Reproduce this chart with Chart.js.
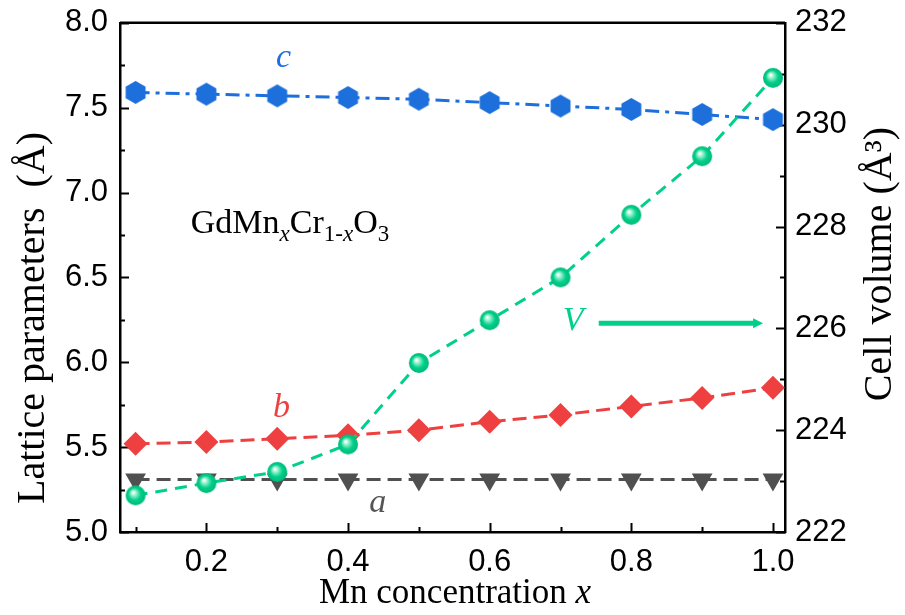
<!DOCTYPE html>
<html>
<head>
<meta charset="utf-8">
<script src="https://cdn.jsdelivr.net/npm/chart.js@4.4.1/dist/chart.umd.min.js"></script>
<style>
  html, body { margin: 0; padding: 0; background: #fff; }
  #wrap { width: 905px; height: 615px; position: relative; }
</style>
</head>
<body>
<div id="wrap"><canvas id="latticeChart" width="905" height="615"></canvas></div>
<script>
/* =========================
   DATOS
========================= */
const mnConc = [0.1, 0.2, 0.3, 0.4, 0.5, 0.6, 0.7, 0.8, 0.9, 1.0];
const latticeA = [5.31, 5.31, 5.31, 5.31, 5.31, 5.31, 5.31, 5.31, 5.31, 5.31];
const latticeB = [5.52, 5.53, 5.55, 5.57, 5.60, 5.65, 5.69, 5.74, 5.79, 5.85];
const latticeC = [7.59, 7.58, 7.57, 7.56, 7.55, 7.53, 7.51, 7.49, 7.46, 7.43];
const cellVolume = [222.72, 222.96, 223.18, 223.72, 225.32, 226.16, 227.0, 228.23, 229.38, 230.92];
const xTickLabels = [0.2, 0.4, 0.6, 0.8, 1.0];

const COLORS = {
  a: '#505050',
  b: '#ee4040',
  c: '#1d6fdc',
  v: '#00d08c'
};

const X_TICK_FONT = { family: 'Liberation Sans, Arial, sans-serif', size: 31 };
// lineHeight reducido: así el área del gráfico empieza en y≈22 como en la figura
const Y_TICK_FONT = { family: 'Liberation Sans, Arial, sans-serif', size: 31, lineHeight: 0.7 };
const SERIF = 'Liberation Serif, Times New Roman, serif';

function pairs(ys) {
  return mnConc.map((x, i) => ({ x: x, y: ys[i] }));
}

/* =========================
   MARCADORES
========================= */
function hexagonMarker(r, color) {
  const c = document.createElement('canvas');
  const w = Math.ceil(r * 2 + 2);
  c.width = w; c.height = w;
  const g = c.getContext('2d');
  g.fillStyle = color;
  g.beginPath();
  for (let k = 0; k < 6; k++) {
    const ang = -Math.PI / 2 + k * Math.PI / 3;
    const px = w / 2 + r * Math.cos(ang);
    const py = w / 2 + r * Math.sin(ang);
    k === 0 ? g.moveTo(px, py) : g.lineTo(px, py);
  }
  g.closePath();
  g.fill();
  return c;
}

function sphereMarker(r) {
  const c = document.createElement('canvas');
  const w = Math.ceil(r * 2 + 2);
  c.width = w; c.height = w;
  const g = c.getContext('2d');
  const cx = w / 2, cy = w / 2;
  const grad = g.createRadialGradient(cx - r * 0.25, cy - r * 0.3, r * 0.05, cx, cy, r);
  grad.addColorStop(0, '#ffffff');
  grad.addColorStop(0.25, '#8ff0c8');
  grad.addColorStop(0.6, '#00d08c');
  grad.addColorStop(1, '#00b878');
  g.fillStyle = grad;
  g.beginPath();
  g.arc(cx, cy, r, 0, Math.PI * 2);
  g.fill();
  return c;
}

/* =========================
   PLUGIN: ticks internos, marco, títulos, etiquetas
========================= */
function inwardTicks(ctx, scale, values, len, horizontal, side) {
  values.forEach(v => {
    const p = Math.round(scale.getPixelForValue(v)) + 0.5;
    ctx.beginPath();
    if (horizontal) {
      ctx.moveTo(p, scale.top);
      ctx.lineTo(p, scale.top - len);
    } else if (side === 'left') {
      ctx.moveTo(scale.right, p);
      ctx.lineTo(scale.right + len, p);
    } else {
      ctx.moveTo(scale.left, p);
      ctx.lineTo(scale.left - len, p);
    }
    ctx.stroke();
  });
}

function range(from, to, step) {
  const out = [];
  for (let v = from; v <= to + 1e-9; v += step) out.push(+v.toFixed(4));
  return out;
}

const decorPlugin = {
  id: 'decor',
  beforeDatasetsDraw(chart) {
    const { ctx, chartArea, scales } = chart;
    ctx.save();
    ctx.strokeStyle = '#000';
    ctx.lineWidth = 2.5;
    // marco superior
    ctx.beginPath();
    ctx.moveTo(chartArea.left, chartArea.top);
    ctx.lineTo(chartArea.right, chartArea.top);
    ctx.stroke();

    ctx.lineWidth = 2;
    inwardTicks(ctx, scales.x, range(0.2, 1.0, 0.2), 9, true);
    inwardTicks(ctx, scales.x, range(0.1, 0.9, 0.2), 5, true);
    inwardTicks(ctx, scales.y, range(5, 8, 0.5), 9, false, 'left');
    inwardTicks(ctx, scales.y, range(5.25, 7.75, 0.5), 5, false, 'left');
    inwardTicks(ctx, scales.y1, range(222, 232, 2), 9, false, 'right');
    inwardTicks(ctx, scales.y1, range(223, 231, 2), 5, false, 'right');
    ctx.restore();
  },
  afterDraw(chart) {
    const { ctx, scales } = chart;
    const x = scales.x, y = scales.y, y1 = scales.y1;
    ctx.save();

    // títulos de ejes
    ctx.fillStyle = '#000';
    ctx.textBaseline = 'middle';
    ctx.font = '35px ' + SERIF;
    const wMn = ctx.measureText('Mn concentration ').width;
    ctx.font = 'italic 35px ' + SERIF;
    const wX = ctx.measureText('x').width;
    let tx = 455 - (wMn + wX) / 2;
    ctx.textAlign = 'left';
    ctx.font = '35px ' + SERIF;
    ctx.fillText('Mn concentration ', tx, 594);
    ctx.font = 'italic 35px ' + SERIF;
    ctx.fillText('x', tx + wMn, 594);

    ctx.textAlign = 'center';
    ctx.font = '40px ' + SERIF;
    ctx.save();
    ctx.translate(33, 318);
    ctx.rotate(-Math.PI / 2);
    ctx.fillText('Lattice parameters  (Å)', 0, 0);
    ctx.restore();

    ctx.font = '40px ' + SERIF;
    ctx.save();
    ctx.translate(880, 127);
    ctx.rotate(-Math.PI / 2);
    ctx.textAlign = 'right';
    ctx.fillText('Cell volume (Å³)', 0, 0);
    ctx.restore();

    // etiquetas de series
    ctx.textAlign = 'center';
    ctx.font = 'italic 34px ' + SERIF;
    ctx.fillStyle = COLORS.c;
    ctx.fillText('c', x.getPixelForValue(0.309), y.getPixelForValue(7.79));
    ctx.fillStyle = COLORS.b;
    ctx.fillText('b', x.getPixelForValue(0.306), y.getPixelForValue(5.73));
    ctx.fillStyle = '#555';
    ctx.fillText('a', x.getPixelForValue(0.442), y.getPixelForValue(5.17));
    ctx.fillStyle = COLORS.v;
    ctx.fillText('V', x.getPixelForValue(0.718), y1.getPixelForValue(226.15));

    // flecha hacia el eje derecho
    const ay = y1.getPixelForValue(226.1);
    const ax0 = x.getPixelForValue(0.754);
    const ax1 = x.getPixelForValue(0.986);
    ctx.strokeStyle = COLORS.v;
    ctx.lineWidth = 5;
    ctx.beginPath();
    ctx.moveTo(ax0, ay);
    ctx.lineTo(ax1 - 8, ay);
    ctx.stroke();
    ctx.fillStyle = COLORS.v;
    ctx.beginPath();
    ctx.moveTo(ax1, ay);
    ctx.lineTo(ax1 - 10, ay - 5);
    ctx.lineTo(ax1 - 10, ay + 5);
    ctx.closePath();
    ctx.fill();

    // fórmula
    ctx.fillStyle = '#000';
    ctx.textAlign = 'left';
    ctx.textBaseline = 'alphabetic';
    let px = x.getPixelForValue(0.178);
    const base = y.getPixelForValue(6.76);
    const parts = [
      ['GdMn', '34px', 0],
      ['x', 'italic 23px', 8],
      ['Cr', '34px', 0],
      ['1-', '23px', 8],
      ['x', 'italic 23px', 8],
      ['O', '34px', 0],
      ['3', '23px', 8]
    ];
    parts.forEach(([txt, f, dy]) => {
      ctx.font = f + ' ' + SERIF;
      ctx.fillText(txt, px, base + dy);
      px += ctx.measureText(txt).width;
    });

    ctx.restore();
  }
};

/* =========================
   GRÁFICA
========================= */
const ctx = document.getElementById('latticeChart').getContext('2d');
const latticeChart = new Chart(ctx, {
  type: 'line',
  data: {
    datasets: [
      {
        label: 'V',
        data: pairs(cellVolume),
        yAxisID: 'y1',
        order: 0,
        borderColor: COLORS.v,
        borderWidth: 3,
        borderDash: [12, 8],
        pointStyle: sphereMarker(10),
        pointRadius: 10,
        tension: 0
      },
      {
        label: 'c',
        data: pairs(latticeC),
        yAxisID: 'y',
        order: 1,
        borderColor: COLORS.c,
        borderWidth: 3,
        borderDash: [14, 6, 4, 6],
        pointStyle: hexagonMarker(11.5, COLORS.c),
        pointRadius: 11,
        tension: 0
      },
      {
        label: 'b',
        data: pairs(latticeB),
        yAxisID: 'y',
        order: 2,
        borderColor: COLORS.b,
        borderWidth: 3,
        borderDash: [14, 7],
        pointStyle: 'rectRot',
        pointRadius: 12,
        pointBackgroundColor: COLORS.b,
        pointBorderColor: COLORS.b,
        pointBorderWidth: 0,
        tension: 0
      },
      {
        label: 'a',
        data: pairs(latticeA),
        yAxisID: 'y',
        order: 3,
        borderColor: COLORS.a,
        borderWidth: 3,
        borderDash: [14, 7],
        pointStyle: 'triangle',
        rotation: 180,
        pointRadius: 12,
        pointBackgroundColor: COLORS.a,
        pointBorderColor: COLORS.a,
        pointBorderWidth: 0,
        tension: 0
      }
    ]
  },
  options: {
    animation: false,
    responsive: false,
    devicePixelRatio: 1,
    layout: { padding: { top: 0, left: 0, right: 0, bottom: 0 } },
    plugins: {
      legend: { display: false },
      tooltip: { enabled: false }
    },
    elements: { line: { fill: false } },
    scales: {
      x: {
        type: 'linear',
        min: 0.078,
        max: 1.017,
        afterBuildTicks: (s) => { s.ticks = xTickLabels.map(v => ({ value: v })); },
        afterFit: (s) => { s.height = 83; },
        grid: { display: false, drawTicks: false },
        border: { display: true, color: '#000', width: 2.5 },
        ticks: {
          color: '#000',
          font: X_TICK_FONT,
          padding: 12,
          callback: (v) => v.toFixed(1)
        }
      },
      y: {
        position: 'left',
        min: 5,
        max: 8,
        afterFit: (s) => { s.width = 120; },
        grid: { display: false, drawTicks: false },
        border: { display: true, color: '#000', width: 2.5 },
        ticks: {
          stepSize: 0.5,
          color: '#000',
          font: Y_TICK_FONT,
          padding: 12,
          callback: (v) => v.toFixed(1)
        }
      },
      y1: {
        position: 'right',
        min: 222,
        max: 232,
        afterFit: (s) => { s.width = 120; },
        grid: { display: false, drawTicks: false },
        border: { display: true, color: '#000', width: 2.5 },
        ticks: {
          stepSize: 2,
          color: '#000',
          font: Y_TICK_FONT,
          padding: 10,
          callback: (v) => String(v)
        }
      }
    }
  },
  plugins: [decorPlugin]
});
</script>
</body>
</html>
